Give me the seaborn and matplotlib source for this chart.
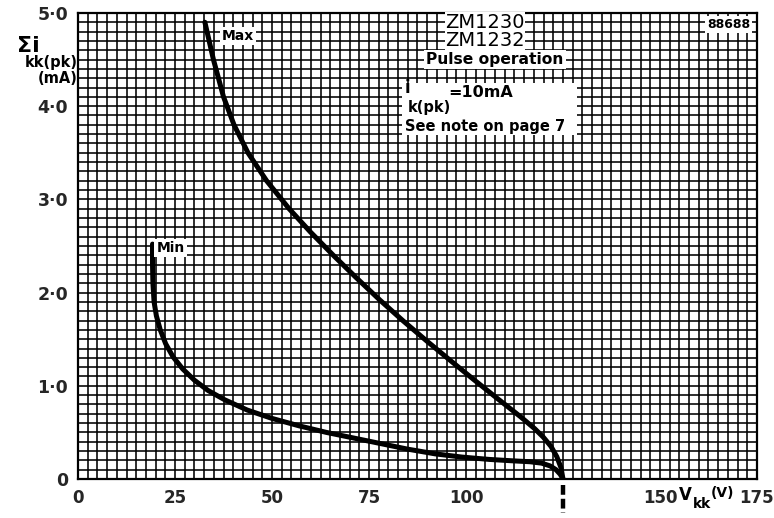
"""
ZM1230 / ZM1232 pulse operation: sum of peak cathode currents vs voltage.
"""

import numpy as np
import matplotlib.pyplot as plt
from matplotlib.patches import Rectangle
import seaborn as sns
import pandas as pd

sns.set_theme(style="white")
plt.rcParams["font.family"] = ["DejaVu Sans"]

# ── Curve data ──────────────────────────────────────────────────────────────
max_v = [32.7, 34.9, 37.5, 40.2, 43.8, 48.6, 54.4, 59.9, 65.8, 71.7, 77.8,
         83.7, 89.9, 96.3, 102.2, 108.2, 114.0, 117.7, 119.9, 121.9, 123.4,
         124.5, 125.0]
max_i = [4.90, 4.50, 4.10, 3.80, 3.50, 3.20, 2.90, 2.65, 2.40, 2.16, 1.92,
         1.70, 1.48, 1.26, 1.06, 0.86, 0.67, 0.54, 0.45, 0.35, 0.24,
         0.12, 0.0]

min_v = [19.2, 19.2, 19.3, 19.6, 20.2, 21.2, 22.6, 24.5, 27.0, 30.0, 33.5,
         37.8, 43.6, 50.0, 57.0, 64.0, 71.0, 78.0, 85.0, 92.0, 99.0, 106.0,
         112.0, 116.5, 119.5, 121.7, 123.2, 124.3, 125.0]
min_i = [2.52, 2.30, 2.10, 1.90, 1.75, 1.60, 1.45, 1.31, 1.18, 1.06, 0.95,
         0.85, 0.74, 0.65, 0.57, 0.50, 0.44, 0.38, 0.32, 0.27, 0.235, 0.21,
         0.195, 0.185, 0.17, 0.14, 0.10, 0.05, 0.0]

x_ticks = [0, 25, 50, 75, 100, 150, 175]
x_labels = ["0", "25", "50", "75", "100", "150", "175"]
y_ticks = [0, 1, 2, 3, 4, 5]
y_labels = ["0", "1·0", "2·0", "3·0", "4·0", "5·0"]

curves = pd.concat([
    pd.DataFrame({"V": max_v, "I": max_i, "curve": "Max"}),
    pd.DataFrame({"V": min_v, "I": min_i, "curve": "Min"}),
])

# ── Figure ──────────────────────────────────────────────────────────────────
fig = plt.figure(figsize=(7.74, 5.18), dpi=100)
ax = fig.add_axes([0.1008, 0.0753, 0.8772, 0.8997])

ax.set_xlim(0, 175)
ax.set_ylim(0, 5)

# graph-paper grid
ax.set_xticks(np.arange(0, 175.1, 2.5), minor=True)
ax.set_yticks(np.arange(0, 5.01, 0.1), minor=True)
ax.grid(which="both", color="black", linewidth=1.15)
ax.set_axisbelow(True)
for sp in ax.spines.values():
    sp.set_color("black")
    sp.set_linewidth(1.6)

sns.lineplot(data=curves, x="V", y="I", units="curve", estimator=None,
             sort=False, color="black", linewidth=3.6, ax=ax, legend=False,
             zorder=3, solid_joinstyle="round", solid_capstyle="round")

ax.set_xticks(x_ticks)
ax.set_xticklabels(x_labels, fontsize=12, fontweight="bold")
ax.set_yticks(y_ticks)
ax.set_yticklabels(y_labels, fontsize=12.5, fontweight="bold")
ax.tick_params(which="both", length=0, pad=7)
ax.set_xlabel("")
ax.set_ylabel("")

# dashed marker at 125 V
ax.plot([125, 125], [-0.06, -0.36], color="black", linewidth=3.2,
        linestyle=(0, (2.2, 0.9)), clip_on=False, zorder=4)

# axis labels
txt = dict(color="black", fontweight="bold")
ax.text(155.0, -0.17, "V", fontsize=12, ha="left", va="center", **txt)
ax.text(158.4, -0.27, "kk", fontsize=10, ha="left", va="center", **txt)
ax.text(163.0, -0.15, "(V)", fontsize=10, ha="left", va="center", **txt)

fig.text(0.022, 0.912, "Σi", fontsize=16, ha="left", va="center", **txt)
fig.text(0.100, 0.880, "kk(pk)", fontsize=10.5, ha="right", va="center", **txt)
fig.text(0.100, 0.849, "(mA)", fontsize=10.5, ha="right", va="center", **txt)

# annotations
box = dict(facecolor="white", edgecolor="none", pad=1.5)
ax.text(37.1, 4.75, "Max", fontsize=10, ha="left", va="center",
        bbox=box, zorder=5, **txt)
ax.text(20.2, 2.48, "Min", fontsize=10, ha="left", va="center",
        bbox=box, zorder=5, **txt)
ax.text(104.9, 4.90, "ZM1230", fontsize=14, ha="center", va="center",
        color="black", bbox=dict(facecolor="white", edgecolor="none", pad=0.3),
        zorder=5)
ax.text(104.9, 4.70, "ZM1232", fontsize=14, ha="center", va="center",
        color="black", bbox=dict(facecolor="white", edgecolor="none", pad=0.3),
        zorder=5)
ax.text(107.5, 4.50, "Pulse operation", fontsize=11.2, ha="center",
        va="center", bbox=box, zorder=5, **txt)

ax.add_patch(Rectangle((83.5, 3.69), 45.1, 0.56, facecolor="white",
                       edgecolor="none", zorder=4))
ax.text(84.3, 4.19, "i", fontsize=12, ha="left", va="center", zorder=5, **txt)
ax.text(85.1, 3.99, "k(pk)", fontsize=10.5, ha="left", va="center",
        zorder=5, **txt)
ax.text(95.5, 4.15, "=10mA", fontsize=11.5, ha="left", va="center",
        zorder=5, **txt)
ax.text(84.3, 3.78, "See note on page 7", fontsize=10.5, ha="left",
        va="center", zorder=5, **txt)

ax.text(173.2, 4.88, "88688", fontsize=9, ha="right", va="center",
        bbox=dict(facecolor="white", edgecolor="none", pad=1.5), zorder=5,
        **txt)

fig.savefig("out.png", dpi=100)
